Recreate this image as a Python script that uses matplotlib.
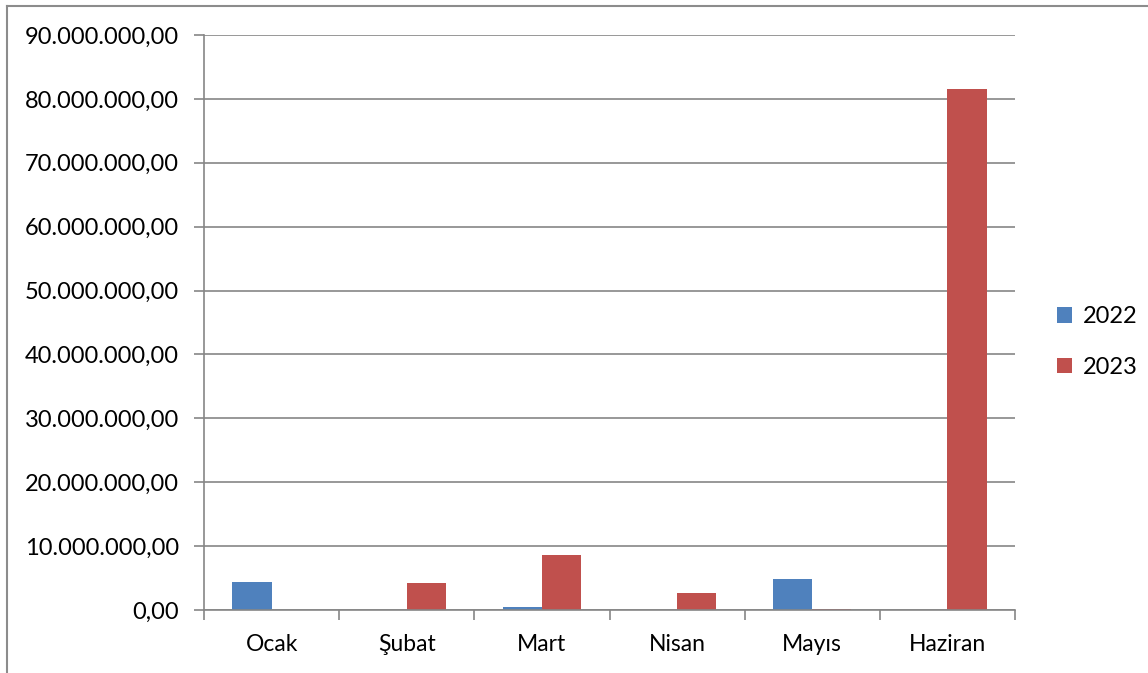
import numpy as np
import matplotlib.pyplot as plt
from matplotlib.ticker import FuncFormatter, MultipleLocator
from matplotlib.lines import Line2D

months = ["Ocak", "Şubat", "Mart", "Nisan", "Mayıs", "Haziran"]
v2022 = [4400000, 0, 470000, 50000, 4850000, 0]
v2023 = [0, 4250000, 8650000, 2600000, 200000, 81500000]

plt.rcParams['font.family'] = ['Lato', 'DejaVu Sans']

fig = plt.figure(figsize=(11.48, 6.73), dpi=100)
ax = fig.add_axes([204/1148, 1 - 610/673, 811/1148, 575/673])

x = np.arange(len(months))
w = 0.29
ax.bar(x - w/2, v2022, w, color="#4F81BD", label="2022")
ax.bar(x + w/2, v2023, w, color="#C0504D", label="2023")

ax.set_xlim(-0.5, len(months) - 0.5)
ax.set_ylim(0, 90000000)
ax.yaxis.set_major_locator(MultipleLocator(10000000))

def tr_fmt(v, pos):
    s = f"{v:,.2f}"
    return s.replace(",", "X").replace(".", ",").replace("X", ".")

ax.yaxis.set_major_formatter(FuncFormatter(tr_fmt))
ax.grid(axis="y", color="#868686", linewidth=1.2)
ax.set_axisbelow(True)

ax.set_xticks(x)
ax.set_xticklabels(months)
ax.set_xticks(np.arange(-0.5, len(months)), minor=True)
ax.tick_params(axis="x", which="major", length=0, pad=17, labelsize=16.5)
ax.tick_params(axis="x", which="minor", length=7, color="#868686", width=1.2)
ax.tick_params(axis="y", length=7, color="#868686", width=1.2, labelsize=17, pad=11)

for s in ["top", "right"]:
    ax.spines[s].set_visible(False)
for s in ["left", "bottom"]:
    ax.spines[s].set_color("#868686")
    ax.spines[s].set_linewidth(1.2)

ax.legend(loc="center left", bbox_to_anchor=(1.025, 0.466), frameon=False,
          fontsize=17, handlelength=0.65, handleheight=0.65, handletextpad=0.45,
          labelspacing=1.25)

# outer chart border (left and top visible)
fig.add_artist(Line2D([7/1148, 7/1148], [0, 1 - 5.5/673], transform=fig.transFigure,
                      color="#8c8c8c", linewidth=1.5))
fig.add_artist(Line2D([7/1148, 1], [1 - 5.5/673, 1 - 5.5/673], transform=fig.transFigure,
                      color="#8c8c8c", linewidth=1.5))

fig.savefig("out.png", dpi=100)
